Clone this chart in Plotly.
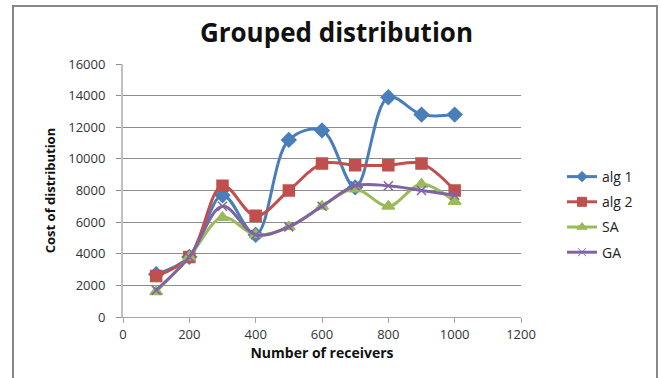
import plotly.graph_objects as go

receivers = [100, 200, 300, 400, 500, 600, 700, 800, 900, 1000]
alg1 = [2700, 3800, 7700, 5200, 11200, 11800, 8200, 13900, 12800, 12800]
alg2 = [2600, 3800, 8300, 6400, 8000, 9700, 9600, 9600, 9700, 8000]
sa = [1600, 3800, 6300, 5200, 5700, 7000, 8100, 7000, 8400, 7300]
ga = [1700, 3800, 7000, 5200, 5700, 7000, 8300, 8300, 8000, 7700]

# name, values, colour, marker symbol, marker size on the plot, size in legend
series = [
    ("alg 1", alg1, "#4A7EBB", "diamond", 11, 8),
    ("alg 2", alg2, "#C0504D", "square", 11, 9),
    ("SA", sa, "#9BBB59", "triangle-up", 11, 9),
    ("GA", ga, "#8064A2", "x-thin", 9, 8),
]

FONT = "Open Sans"
fig = go.Figure()
for name, vals, color, sym, size, leg_size in series:
    fig.add_trace(go.Scatter(
        x=receivers, y=vals, name=name, legendgroup=name, showlegend=False,
        mode="lines+markers",
        line=dict(color=color, width=3, shape="spline", smoothing=1.0),
        marker=dict(symbol=sym, size=size, color=color,
                    line=dict(color=color, width=1.5)),
    ))
    # legend entry with smaller marker
    fig.add_trace(go.Scatter(
        x=[None], y=[None], name=name, legendgroup=name,
        mode="lines+markers",
        line=dict(color=color, width=3),
        marker=dict(symbol=sym, size=leg_size, color=color,
                    line=dict(color=color, width=1)),
    ))

fig.update_layout(
    width=661, height=378,
    margin=dict(l=123, r=140, t=64, b=61),
    paper_bgcolor="white", plot_bgcolor="white",
    font=dict(family=FONT, size=13, color="#333333"),
    title=dict(text="<b>Grouped distribution</b>", x=0.509, xanchor="center",
               y=1 - 33 / 378, yanchor="middle",
               font=dict(family=FONT, size=26, color="#111111")),
    xaxis=dict(range=[0, 1200], tickvals=list(range(0, 1201, 200)),
               tickformat="d",
               showgrid=False, zeroline=False,
               showline=True, linecolor="#A6A6A6", linewidth=1,
               ticks="outside", ticklen=5, tickcolor="#A6A6A6",
               tickfont=dict(size=13, color="#333333"),
               title=dict(text="<b>Number of receivers</b>", standoff=6,
                          font=dict(size=14, color="#111111"))),
    yaxis=dict(range=[0, 16000], tickvals=list(range(0, 16001, 2000)),
               tickformat="d",
               showgrid=True, gridcolor="#8C8C8C", gridwidth=1,
               zeroline=False,
               showline=True, linecolor="#BFBFBF", linewidth=2,
               ticks="outside", ticklen=5, tickcolor="#8C8C8C",
               ticklabelstandoff=8,
               tickfont=dict(size=13, color="#333333"),
               title=dict(text="<b>Cost of distribution</b>", standoff=10,
                          font=dict(size=13, color="#111111"))),
    legend=dict(x=(562 - 123) / 398, xanchor="left",
                y=(317 - 161) / 253, yanchor="top",
                tracegroupgap=4, itemwidth=30,
                font=dict(size=14, color="#222222"),
                bgcolor="rgba(0,0,0,0)"),
    shapes=[dict(type="rect", xref="paper", yref="paper",
                 x0=(13 - 123) / 398, x1=(657 - 123) / 398,
                 y0=-0.5, y1=(317 - 6) / 253,
                 line=dict(color="#888888", width=2))],
)

fig.write_html("out.html")
